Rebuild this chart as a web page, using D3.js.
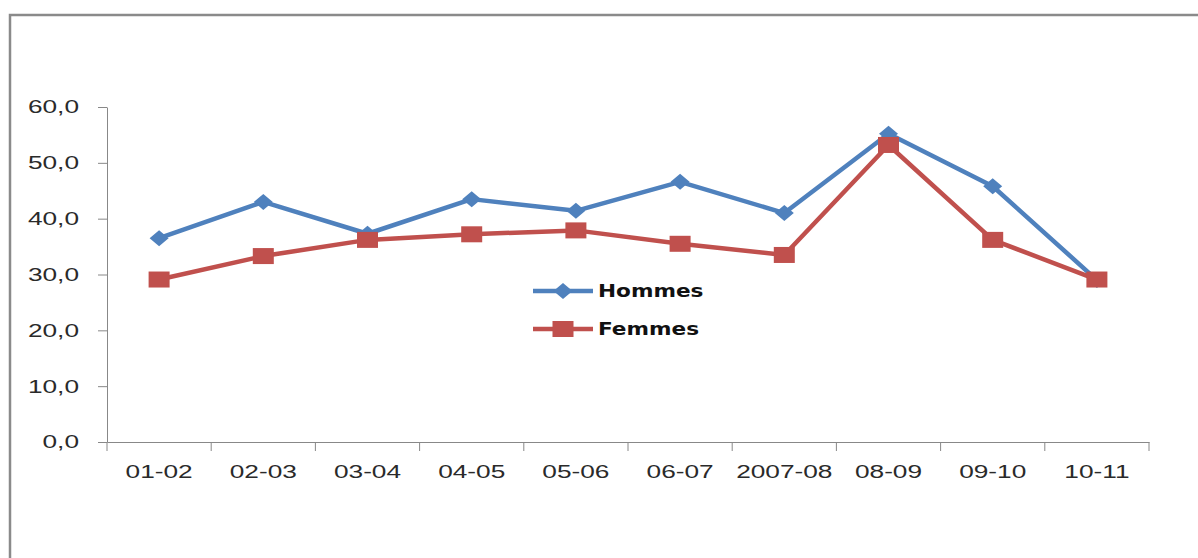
<!DOCTYPE html>
<html>
<head>
<meta charset="utf-8">
<script src="https://cdn.jsdelivr.net/npm/d3@7"></script>
<style>
  body { margin: 0; background: #fff; }
  svg { display: block; font-family: "DejaVu Sans", Verdana, sans-serif; }
</style>
</head>
<body>
<div id="chart"></div>
<script>
// --> DATA
var years = ["01-02", "02-03", "03-04", "04-05", "05-06", "06-07", "2007-08", "08-09", "09-10", "10-11"];
var hommes = [36.5, 43.0, 37.3, 43.5, 41.4, 46.6, 41.0, 55.2, 45.8, 29.0];
var femmes = [29.1, 33.3, 36.2, 37.2, 37.9, 35.5, 33.5, 53.2, 36.2, 29.1];
var yTicks = [0, 10, 20, 30, 40, 50, 60];

// --> SVG
var width = 1198,
    height = 558;

var svg = d3.select("#chart").append("svg")
    .attr("width", width)
    .attr("height", height);

// chart frame (only top and left edge are visible)
svg.append("path")
    .attr("d", "M10," + height + "V15H" + width)
    .attr("fill", "none")
    .attr("stroke", "#8a8a8a")
    .attr("stroke-width", 2.5);

// scales
var x = d3.scaleBand()
    .domain(years)
    .range([107, 1149])
    .padding(0);

var y = d3.scaleLinear()
    .domain([0, 60])
    .range([442, 107]);

var stretch = 1.42; // the picture is widened horizontally
var fmt = function(d) { return d3.format(".1f")(d).replace(".", ","); };

// y axis
var yAxis = svg.append("g")
    .attr("transform", "translate(107,0)")
    .call(d3.axisLeft(y).tickValues(yTicks).tickFormat(fmt).tickSize(9).tickSizeOuter(0));
yAxis.select(".domain").attr("stroke", "#888");
yAxis.selectAll(".tick line").attr("stroke", "#888");
yAxis.selectAll(".tick text")
    .attr("x", -28 / stretch)
    .attr("transform", "scale(" + stretch + ",1)")
    .attr("fill", "#2a2a2a")
    .style("font-size", "18.5px");

// x axis: labels centred in each band
var xAxis = svg.append("g")
    .attr("transform", "translate(0,442)")
    .call(d3.axisBottom(x).tickSize(0).tickSizeOuter(0));
xAxis.select(".domain").attr("stroke", "#888");
xAxis.selectAll(".tick text")
    .attr("y", 36)
    .attr("dy", "0")
    .attr("transform", "scale(" + stretch + ",1)")
    .attr("fill", "#2a2a2a")
    .style("font-size", "18.5px");

// x axis: tick marks on band boundaries
var bounds = years.map(function(d) { return x(d); }).concat([x.range()[1]]);
svg.append("g").selectAll("line")
    .data(bounds)
    .enter().append("line")
    .attr("x1", function(d) { return d; })
    .attr("x2", function(d) { return d; })
    .attr("y1", 442)
    .attr("y2", 451)
    .attr("stroke", "#888");

var cx = function(d, i) { return x(years[i]) + x.bandwidth() / 2; };

var line = d3.line()
    .x(function(d, i) { return cx(d, i); })
    .y(function(d) { return y(d); });

var series = [
    { name: "Hommes", values: hommes, color: "#4f81bd", marker: "diamond" },
    { name: "Femmes", values: femmes, color: "#c0504d", marker: "square" }
];

function marker(g, s, px, py) {
    if (s.marker === "diamond") {
        g.append("path")
            .attr("d", "M0,-8L9.5,0L0,8L-9.5,0Z")
            .attr("transform", "translate(" + px + "," + py + ")")
            .attr("fill", s.color);
    } else {
        g.append("rect")
            .attr("x", px - 10.5)
            .attr("y", py - 8)
            .attr("width", 21)
            .attr("height", 16)
            .attr("fill", s.color);
    }
}

series.forEach(function(s) {
    var g = svg.append("g");
    g.append("path")
        .datum(s.values)
        .attr("d", line)
        .attr("fill", "none")
        .attr("stroke", s.color)
        .attr("stroke-width", 4.5)
        .attr("stroke-linejoin", "round");
    s.values.forEach(function(v, i) {
        marker(g, s, cx(v, i), y(v));
    });
});

// legend
var legendY = [291, 329];
series.forEach(function(s, i) {
    var g = svg.append("g");
    g.append("line")
        .attr("x1", 533)
        .attr("x2", 593)
        .attr("y1", legendY[i])
        .attr("y2", legendY[i])
        .attr("stroke", s.color)
        .attr("stroke-width", 4.5);
    marker(g, s, 563, legendY[i]);
    g.append("text")
        .attr("x", 598 / 1.2)
        .attr("y", legendY[i])
        .attr("dy", "0.35em")
        .attr("transform", "scale(1.2,1)")
        .attr("fill", "#111")
        .style("font-size", "18px")
        .style("font-weight", "bold")
        .text(s.name);
});
</script>
</body>
</html>
